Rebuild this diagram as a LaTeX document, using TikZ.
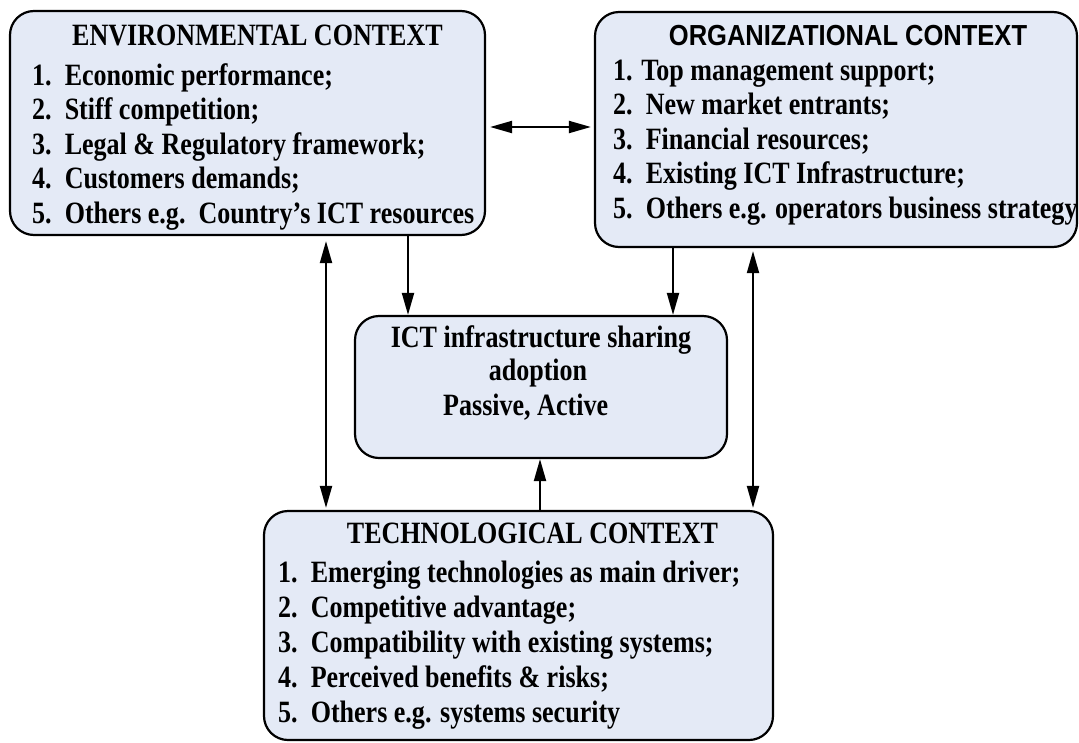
\documentclass[tikz,border=0pt]{standalone}
\usepackage{fontspec}
\setmainfont{Liberation Serif}[FakeStretch=0.84]
\newfontfamily\headsans{Liberation Sans}[FakeStretch=0.88]
\usetikzlibrary{arrows.meta}
\definecolor{boxfill}{RGB}{228,234,246}

\begin{document}
\begin{tikzpicture}[x=1pt,y=-1pt,>={Triangle[length=22pt,width=12pt]},
    ctx/.style={draw,line width=2.2pt,rounded corners=24pt,fill=boxfill,inner sep=0pt},
    head/.style={anchor=base,inner sep=0pt,font=\fontsize{31}{34}\selectfont\bfseries},
    item/.style={anchor=base west,inner sep=0pt,font=\fontsize{31}{34}\selectfont\bfseries},
    link/.style={line width=2pt}]
    \useasboundingbox (0,0) rectangle (1079,742);

    % the four context boxes
    \node[ctx,minimum width=475pt,minimum height=224pt] (env) at (247.5,123) {};
    \node[ctx,minimum width=482pt,minimum height=235pt] (org) at (836,129.5) {};
    \node[ctx,minimum width=372pt,minimum height=142pt] (adopt) at (541,387) {};
    \node[ctx,minimum width=509pt,minimum height=229pt] (tech) at (518.5,625.5) {};

    % headings
    \node[head] (envhead) at (257.5,45) {ENVIRONMENTAL CONTEXT};
    \node[head,font=\fontsize{29}{34}\selectfont\headsans\bfseries] (orghead) at (848,45) {ORGANIZATIONAL CONTEXT};
    \node[head] (techhead) at (532.5,543) {TECHNOLOGICAL CONTEXT};

    \node[head] (adopt1) at (541,347) {ICT infrastructure sharing};
    \node[head] (adopt2) at (538,380) {adoption};
    \node[item] (adopt3) at (443,415) {Passive, Active};

    % factor lists
    \foreach \txt [count=\i from 0] in {{1.\ \ Economic performance;},{2.\ \ Stiff competition;},
        {3.\ \ Legal \& Regulatory framework;},{4.\ \ Customers demands;},
        {5.\ \ Others e.g.\ \ Country's ICT resources}}
        \node[item] (env-\i) at (32,85+34.5*\i) {\txt};

    \foreach \txt [count=\i from 0] in {{1. Top management support;},{2.\ \ New market entrants;},
        {3.\ \ Financial resources;},{4.\ \ Existing ICT Infrastructure;},
        {5.\ \ Others e.g. operators business strategy}}
        \node[item] (org-\i) at (613,80+34.6*\i) {\txt};

    \foreach \txt [count=\i from 0] in {{1.\ \ Emerging technologies as main driver;},{2.\ \ Competitive advantage;},
        {3.\ \ Compatibility with existing systems;},{4.\ \ Perceived benefits \& risks;},
        {5.\ \ Others e.g. systems security}}
        \node[item] (tech-\i) at (278,582+35.2*\i) {\txt};

    % links
    \draw[link,<->,shorten <=4pt,shorten >=3pt] (env.east |- 0,127) -- (org.west |- 0,127);
    \draw[link,->] (408,0 |- env.south) -- (408,0 |- adopt.north);
    \draw[link,->] (673,0 |- org.south) -- (673,0 |- adopt.north);
    \draw[link,->] (540,0 |- tech.north) -- (540,0 |- adopt.south);
    \draw[link,<->,shorten <=5pt,shorten >=2pt] (326,0 |- env.south) -- (326,0 |- tech.north);
    \draw[link,<->,shorten <=3pt,shorten >=2pt] (753,0 |- org.south) -- (753,0 |- tech.north);
\end{tikzpicture}
\end{document}
